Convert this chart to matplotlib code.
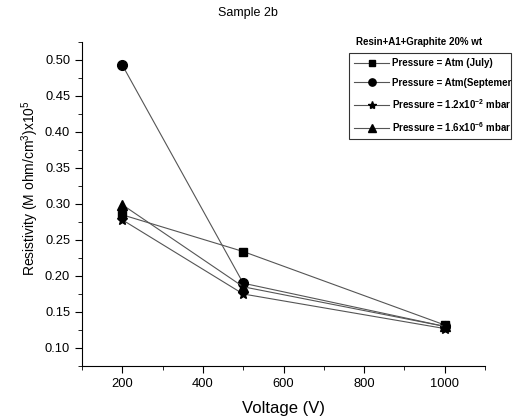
import matplotlib
matplotlib.use("Agg")
import matplotlib.pyplot as plt
from matplotlib.ticker import MultipleLocator

plt.rcParams['font.family'] = ['Liberation Sans', 'DejaVu Sans']
plt.rcParams['mathtext.default'] = 'regular'

# data
voltage = [200, 500, 1000]
atm_july = [0.285, 0.234, 0.132]
atm_sept = [0.493, 0.190, 0.130]
p_1e2 = [0.278, 0.175, 0.127]
p_1e6 = [0.299, 0.185, 0.130]

labels = ['Pressure = Atm (July)',
          'Pressure = Atm(Septemer',
          'Pressure = 1.2x10$^{-2}$ mbar',
          'Pressure = 1.6x10$^{-6}$ mbar']

fig = plt.figure(figsize=(5.13, 4.18), dpi=100)
ax = fig.add_axes([82/513, 1-366/418, (485-82)/513, (366-42)/418])

series = [atm_july, atm_sept, p_1e2, p_1e6]
markers = ['s', 'o', '*', '^']
sizes = [6, 7, 8, 7]
for vals, m, s, lab in zip(series, markers, sizes, labels):
    ax.plot(voltage, vals, color='#555555', lw=0.8, marker=m, ms=s,
            mfc='black', mec='black', label=lab)

ax.set_xlim(100, 1100)
ax.set_ylim(0.075, 0.525)
ax.xaxis.set_major_locator(MultipleLocator(200))
ax.xaxis.set_minor_locator(MultipleLocator(100))
ax.yaxis.set_major_locator(MultipleLocator(0.05))
ax.yaxis.set_minor_locator(MultipleLocator(0.025))
ax.yaxis.set_major_formatter(plt.FormatStrFormatter('%.2f'))
ax.tick_params(which='both', direction='out', labelsize=9.3)
ax.tick_params(which='major', length=5)
ax.tick_params(which='minor', length=3)
for sp in ['top', 'right']:
    ax.spines[sp].set_visible(False)

ax.set_xlabel('Voltage (V)', fontsize=12, labelpad=8)
ax.set_ylabel('Resistivity (M ohm/cm$^3$)x10$^5$', fontsize=10)
ax.yaxis.set_label_coords(-0.102, 0.55)

fig.text(248/513, 1-13/418, 'Sample 2b', ha='center', va='center', fontsize=9)
fig.text(356/513, 1-42/418, 'Resin+A1+Graphite 20% wt', ha='left', va='center',
         fontsize=7, fontweight='bold')

leg = ax.legend(loc='upper left',
                bbox_to_anchor=(349/513, 1-138/418, (511-349)/513, (138-53)/418),
                bbox_transform=fig.transFigure, mode='expand', frameon=True,
                fancybox=False, edgecolor='black',
                prop={'size': 7, 'weight': 'bold'},
                handlelength=3.6, handletextpad=0.3, borderpad=0.55,
                labelspacing=0.95, borderaxespad=0, markerscale=0.75)
leg.get_frame().set_linewidth(0.8)

fig.savefig('out.png', dpi=100)
